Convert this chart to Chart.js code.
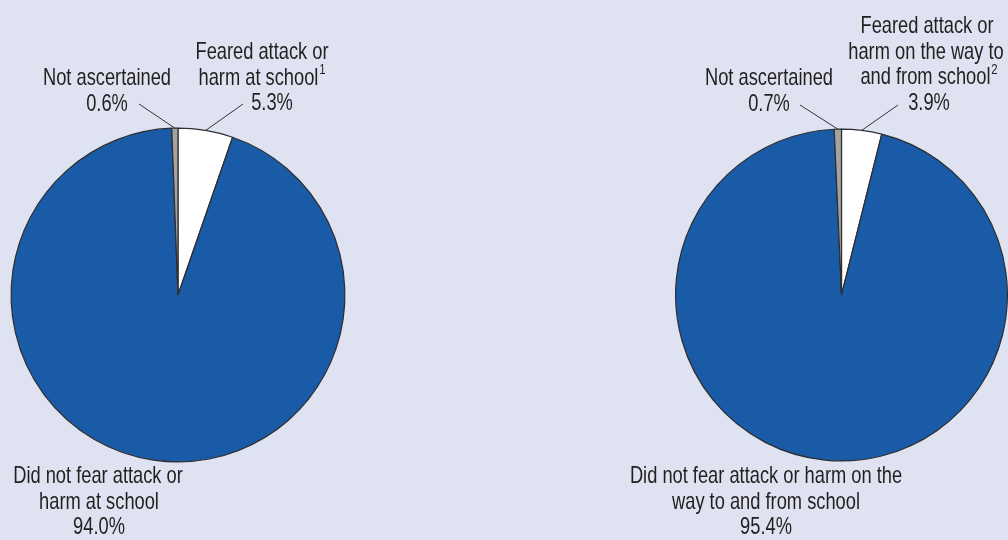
<!DOCTYPE html>
<html>
<head>
<meta charset="utf-8">
<script src="https://cdn.jsdelivr.net/npm/chart.js@4"></script>
<style>
  html, body { margin: 0; padding: 0; background: #dfe3f1; }
  #wrap { position: relative; width: 1008px; height: 540px; background: #dfe3f1; }
  #wrap canvas { position: absolute; left: 0; top: 0; }
</style>
</head>
<body>
<div id="wrap">
  <canvas id="atSchool" width="1008" height="540"></canvas>
  <canvas id="onTheWay" width="1008" height="540"></canvas>
</div>
<script>
// slice order: clockwise from 12 o'clock
const categories = ['Feared attack or harm', 'Did not fear attack or harm', 'Not ascertained'];
const atSchoolValues = [5.3, 94.0, 0.6];
const onTheWayValues = [3.9, 95.4, 0.7];
const sliceColors = ['#ffffff', '#1a5ba8', '#a3a3a3'];

const atSchoolText = [
  ['Feared attack or', 'harm at school\u00b9', '5.3%'],
  ['Did not fear attack or', 'harm at school', '94.0%'],
  ['Not ascertained', '0.6%']
];
const onTheWayText = [
  ['Feared attack or', 'harm on the way to', 'and from school\u00b2', '3.9%'],
  ['Did not fear attack or harm on the', 'way to and from school', '95.4%'],
  ['Not ascertained', '0.7%']
];

const FONT = '24px "Liberation Sans", Arial, sans-serif';
const SUP_FONT = '15px "Liberation Sans", Arial, sans-serif';
const SUPS = { '\u00b9': '1', '\u00b2': '2' };

// squeeze a regular sans into a condensed look ("Not ascertained" ~128px wide)
function squeeze(ctx) {
  ctx.font = FONT;
  return 128 / ctx.measureText('Not ascertained').width;
}

function drawLine(ctx, line, x, y, sx) {
  const last = line.slice(-1);
  const sup = SUPS[last];
  const main = sup ? line.slice(0, -1) : line;
  ctx.font = FONT;
  const w = ctx.measureText(main).width;
  ctx.font = SUP_FONT;
  const ws = sup ? ctx.measureText(sup).width + 1 : 0;
  ctx.save();
  ctx.translate(x, y);
  ctx.scale(sx, 1);
  ctx.textAlign = 'left';
  ctx.font = FONT;
  const x0 = -(w + ws) / 2;
  ctx.fillText(main, x0, 0);
  if (sup) {
    ctx.font = SUP_FONT;
    ctx.fillText(sup, x0 + w + 1, -8);
  }
  ctx.restore();
}

// label placement relative to pie centre: x offset per line, y of first line, leader end
function labelPlugin(text, place) {
  return {
    id: 'sliceLabels',
    afterDraw(chart) {
      const ctx = chart.ctx;
      const arcs = chart.getDatasetMeta(0).data;
      ctx.save();
      const sx = squeeze(ctx);
      ctx.fillStyle = '#231f20';
      ctx.textBaseline = 'middle';
      ctx.strokeStyle = '#333333';
      ctx.lineWidth = 1;
      arcs.forEach((arc, i) => {
        const p = arc.getProps(['x', 'y', 'startAngle', 'endAngle', 'outerRadius'], true);
        const pl = place[i];
        text[i].forEach((line, k) => {
          drawLine(ctx, line, p.x + pl.dx[k], p.y + pl.y + k * 25.5, sx);
        });
        if (pl.leader) {
          const mid = (p.startAngle + p.endAngle) / 2;
          ctx.beginPath();
          ctx.moveTo(p.x + Math.cos(mid) * p.outerRadius, p.y + Math.sin(mid) * p.outerRadius);
          ctx.lineTo(p.x + pl.leader[0], p.y + pl.leader[1]);
          ctx.stroke();
        }
      });
      ctx.restore();
    }
  };
}

function makePie(id, values, text, place, padding) {
  new Chart(document.getElementById(id), {
    type: 'pie',
    data: {
      labels: categories,
      datasets: [{
        data: values,
        backgroundColor: sliceColors,
        borderColor: '#2e2e2e',
        borderWidth: 1.2
      }]
    },
    options: {
      responsive: false,
      animation: false,
      events: [],
      layout: { padding: padding },
      plugins: {
        legend: { display: false },
        tooltip: { enabled: false }
      }
    },
    plugins: [labelPlugin(text, place)]
  });
}

makePie('atSchool', atSchoolValues, atSchoolText, [
  { dx: [84, 84, 94], y: -242.5, leader: [65, -191] },
  { dx: [-80, -79, -79], y: 181.5 },
  { dx: [-71, -71], y: -216.5, leader: [-39, -191] }
], { left: 10.5, right: 662.5, top: 127.5, bottom: 77.5 });

makePie('onTheWay', onTheWayValues, onTheWayText, [
  { dx: [85.5, 84.5, 87.5, 87.5], y: -268.5, leader: [56.5, -190] },
  { dx: [-75.5, -75.5, -75.5], y: 181.5 },
  { dx: [-72.5, -72.5], y: -216.5, leader: [-41.5, -190] }
], { left: 675, right: 0, top: 128.5, bottom: 78.5 });
</script>
</body>
</html>
